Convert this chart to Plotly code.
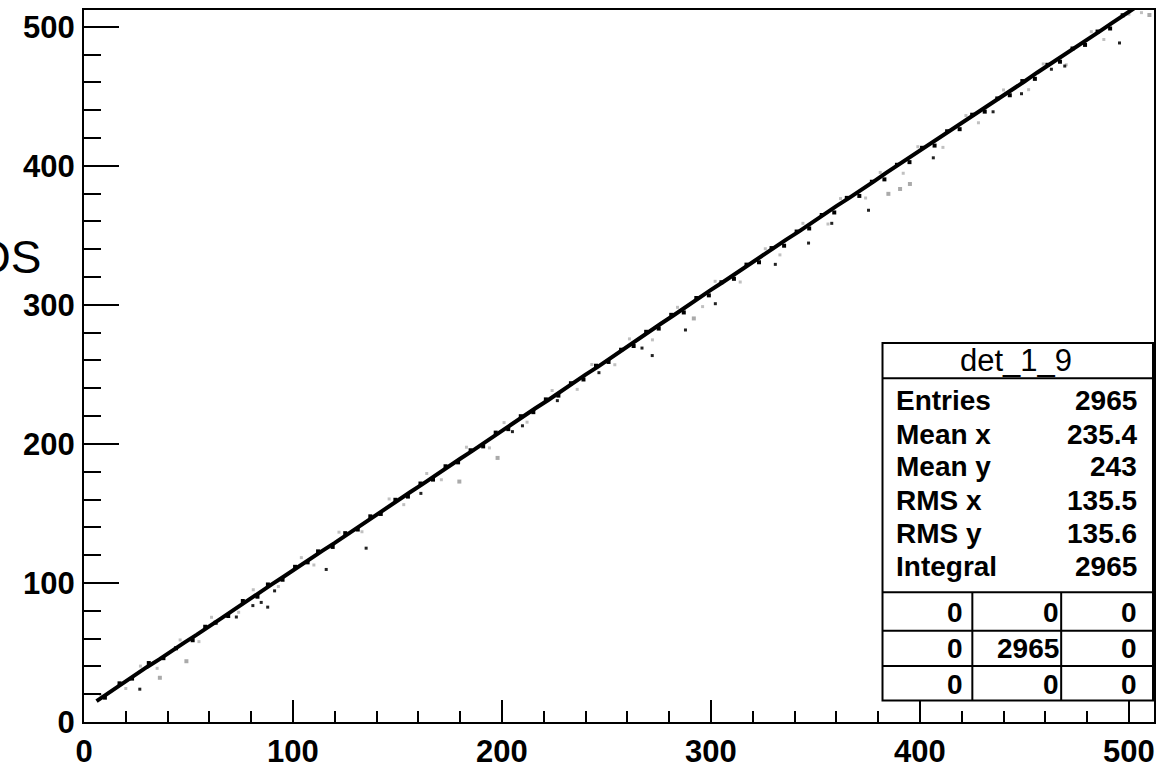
import plotly.graph_objects as go

# ---------------- data ----------------
core_x = [6, 12, 18, 24, 30, 36, 42, 48, 54, 60, 66, 72, 78, 84, 90, 96, 102, 108, 114, 120,
          126, 132, 138, 144, 150, 156, 162, 168, 174, 180, 186, 192, 198, 204, 210, 216, 222,
          228, 234, 240, 246, 252, 258, 264, 270, 276, 282, 288, 294, 300, 306, 312, 318, 324,
          330, 336, 342, 348, 354, 360, 366, 372, 378, 384, 390, 396, 402, 408, 414, 420, 426,
          432, 438, 444, 450, 456, 462, 468, 474, 480, 486, 492, 498, 504]
core_y = [15.0, 21.2, 27.5, 33.1, 39.4, 45.0, 51.3, 57.1, 62.8, 69.2, 74.9, 81.0, 87.3, 92.8,
          99.1, 105.0, 111.2, 116.9, 123.1, 128.8, 135.0, 141.2, 146.9, 153.3, 159.0, 165.2,
          171.1, 177.4, 183.0, 189.3, 195.2, 201.4, 207.1, 213.5, 219.3, 225.6, 231.4, 237.7,
          243.5, 249.8, 255.6, 261.9, 267.8, 274.1, 280.2, 286.4, 292.3, 298.6, 304.5, 310.7,
          316.6, 322.8, 328.5, 334.9, 340.7, 346.9, 352.6, 358.9, 364.8, 371.0, 376.7, 383.1,
          388.8, 395.0, 400.9, 407.1, 412.8, 419.2, 424.9, 431.0, 436.6, 442.9, 448.7, 454.8,
          460.6, 466.9, 472.7, 478.8, 484.5, 490.9, 496.6, 502.8, 508.5, 514.7]

near_x = [10, 17, 23, 31, 38, 44, 52, 58, 63, 69, 76, 83, 88, 95, 101, 107, 112, 119, 125, 131,
          137, 142, 149, 155, 161, 167, 173, 179, 185, 191, 197, 203, 209, 215, 221, 227, 233,
          239, 245, 251, 257, 263, 269, 275, 281, 287, 293, 299, 305, 311, 317, 323, 329, 335,
          341, 347, 353, 359, 365, 371, 377, 383, 389, 395, 401, 407, 413, 419, 425, 431, 437,
          443, 449, 455, 461, 467, 473, 479, 485, 491, 497]
near_y = [17.5, 27.8, 31.2, 42.4, 45.9, 53.0, 58.8, 68.5, 71.4, 76.2, 87.0, 90.1, 98.9, 102.3,
          111.6, 114.8, 122.7, 125.9, 135.8, 138.4, 147.9, 149.6, 159.8, 162.1, 171.5, 174.3,
          183.9, 186.7, 195.4, 198.2, 208.1, 210.6, 219.9, 222.8, 232.0, 234.7, 243.6, 246.3,
          256.2, 258.9, 267.7, 270.4, 280.6, 282.9, 292.8, 294.5, 304.9, 306.8, 316.2, 318.7,
          328.9, 330.6, 340.8, 342.5, 352.7, 354.9, 364.6, 366.4, 376.9, 378.3, 388.5, 390.2,
          400.7, 402.6, 412.9, 414.5, 424.8, 426.3, 436.7, 438.9, 448.4, 450.7, 460.9, 462.5,
          472.6, 474.8, 484.3, 486.9, 496.5, 498.7, 508.2]

halo_x = [8, 20, 27, 35, 46, 55, 61, 74, 81, 93, 104, 110, 122, 133, 146, 153, 164, 171, 183,
          194, 201, 212, 224, 236, 243, 254, 261, 272, 284, 296, 302, 314, 326, 333, 344, 356,
          362, 374, 381, 392, 399, 411, 422, 428, 440, 452, 459, 470, 482, 488, 500, 506]
halo_y = [19.5, 24.1, 40.2, 38.6, 59.0, 57.8, 75.3, 78.9, 95.1, 97.4, 118.2, 112.9, 136.5,
          136.8, 160.4, 156.3, 178.7, 174.2, 197.6, 197.1, 215.3, 215.6, 238.4, 239.2, 257.1,
          256.9, 275.5, 274.8, 298.2, 298.7, 316.9, 316.4, 340.3, 335.9, 358.6, 358.1, 376.4,
          376.8, 395.2, 394.6, 413.7, 413.2, 436.1, 430.9, 454.5, 454.7, 473.2, 472.6, 496.4,
          490.8, 509.0, 510.1]

out_x = [26.7, 72.9, 80.8, 84.8, 87.9, 91.2, 115.9, 135.0, 161.2, 205.0, 209.8, 226.5, 246.4,
         267.0, 271.9, 287.8, 302.1, 330.8, 346.7, 357.8, 375.4, 406.4, 435.0, 448.6, 462.9,
         469.3, 495.5]
out_y = [23.6, 75.5, 83.7, 86.0, 82.6, 94.3, 109.7, 125.0, 164.4, 208.8, 213.0, 231.1, 251.2,
         268.9, 263.5, 281.9, 300.8, 329.1, 344.4, 358.6, 368.0, 405.7, 438.8, 451.8, 469.4,
         471.7, 488.3]

grey_x = [36.3, 49.0, 179.6, 197.9, 291.8, 384.9, 390.5, 395.2, 509.8]
grey_y = [31.8, 43.7, 172.9, 189.9, 290.2, 379.8, 383.3, 386.9, 508.4]

stats_title = "det_1_9"
stats_labels = ["Entries", "Mean x", "Mean y", "RMS x", "RMS y", "Integral"]
stats_values = ["2965", "235.4", "243", "135.5", "135.6", "2965"]
grid_values = [["0", "0", "0"], ["0", "2965", "0"], ["0", "0", "0"]]

x_ticks = [0, 100, 200, 300, 400, 500]
y_ticks = [0, 100, 200, 300, 400, 500]

# ---------------- layout geometry (pixels) ----------------
W, H = 1160, 773
L, R, T, B = 84, 1156, 10, 735


def px(xp):
    return (xp - L) / (R - L)


def py(yp):
    return (B - yp) / (B - T)


fig = go.Figure()
fig.add_trace(go.Scatter(x=halo_x, y=halo_y, mode="markers",
                         marker=dict(symbol="square", size=3, color="#c0c0c0"),
                         hoverinfo="skip", showlegend=False))
fig.add_trace(go.Scatter(x=grey_x, y=grey_y, mode="markers",
                         marker=dict(symbol="square", size=4, color="#aaaaaa"),
                         hoverinfo="skip", showlegend=False))
fig.add_trace(go.Scatter(x=core_x, y=core_y, mode="lines",
                         line=dict(color="black", width=4),
                         hoverinfo="skip", showlegend=False))
fig.add_trace(go.Scatter(x=near_x, y=near_y, mode="markers",
                         marker=dict(symbol="square", size=4, color="black"),
                         hoverinfo="skip", showlegend=False))
fig.add_trace(go.Scatter(x=out_x, y=out_y, mode="markers",
                         marker=dict(symbol="square", size=3, color="#222222"),
                         hoverinfo="skip", showlegend=False))

tickfont = dict(family="Liberation Sans, Arial, sans-serif", size=31, color="black", weight="bold")

fig.update_xaxes(range=[0, 512], showgrid=False, zeroline=False,
                 showline=True, linecolor="black", linewidth=2, mirror=True,
                 ticks="inside", ticklen=22, tickwidth=2, tickcolor="black",
                 tickvals=x_ticks, ticktext=[str(v) for v in x_ticks],
                 tickfont=tickfont, ticklabelstandoff=1,
                 minor=dict(ticks="inside", ticklen=11, tickwidth=2, tickcolor="black", dtick=20,
                            tick0=0, showgrid=False))
fig.update_yaxes(range=[0, 512], showgrid=False, zeroline=False,
                 showline=True, linecolor="black", linewidth=2, mirror=True,
                 ticks="inside", ticklen=35, tickwidth=2, tickcolor="black",
                 tickvals=y_ticks, ticktext=[str(v) for v in y_ticks],
                 tickfont=tickfont, ticklabelstandoff=1,
                 minor=dict(ticks="inside", ticklen=17, tickwidth=2, tickcolor="black", dtick=20,
                            tick0=0, showgrid=False))

shapes = []
# stats box
bx0, bx1, by0, by1 = 884, 1155, 349, 713
shapes.append(dict(type="rect", xref="paper", yref="paper",
                   x0=px(bx0), x1=px(bx1), y0=py(by1), y1=py(by0),
                   line=dict(color="black", width=2), fillcolor="white", layer="above"))
for yl in [385, 603, 642, 678]:
    shapes.append(dict(type="line", xref="paper", yref="paper",
                       x0=px(bx0), x1=px(bx1), y0=py(yl), y1=py(yl),
                       line=dict(color="black", width=2), layer="above"))
for xl in [974, 1063]:
    shapes.append(dict(type="line", xref="paper", yref="paper",
                       x0=px(xl), x1=px(xl), y0=py(603), y1=py(by1),
                       line=dict(color="black", width=2), layer="above"))

ann = []
font_reg = dict(family="Liberation Sans, Arial, sans-serif", size=31, color="black")
font_bold = dict(family="Liberation Sans, Arial, sans-serif", size=28, color="black", weight="bold")
ann.append(dict(text=stats_title, xref="paper", yref="paper", x=px(1018), y=py(367),
                xanchor="center", yanchor="middle", showarrow=False, font=font_reg))
row_y = [408, 442, 475, 509, 543, 577]
for lab, val, yy in zip(stats_labels, stats_values, row_y):
    ann.append(dict(text=lab, xref="paper", yref="paper", x=px(896), y=py(yy),
                    xanchor="left", yanchor="middle", showarrow=False, font=font_bold))
    ann.append(dict(text=val, xref="paper", yref="paper", x=px(1141), y=py(yy),
                    xanchor="right", yanchor="middle", showarrow=False, font=font_bold))
grid_row_y = [623, 660, 697]
grid_col_x = [967, 1063, 1141]
for rvals, yy in zip(grid_values, grid_row_y):
    for v, xx in zip(rvals, grid_col_x):
        ann.append(dict(text=v, xref="paper", yref="paper", x=px(xx), y=py(yy),
                        xanchor="right", yanchor="middle", showarrow=False, font=font_bold))

# clipped axis-title fragment at the left edge
ann.append(dict(text="OS", xref="paper", yref="paper", x=px(43), y=py(262),
                xanchor="right", yanchor="middle", showarrow=False,
                font=dict(family="Liberation Sans, Arial, sans-serif", size=46, color="black")))

fig.update_layout(width=W, height=H, margin=dict(l=L, r=W - R, t=T, b=H - B),
                  paper_bgcolor="white", plot_bgcolor="white",
                  shapes=shapes, annotations=ann, showlegend=False)

fig.write_html("out.html")
